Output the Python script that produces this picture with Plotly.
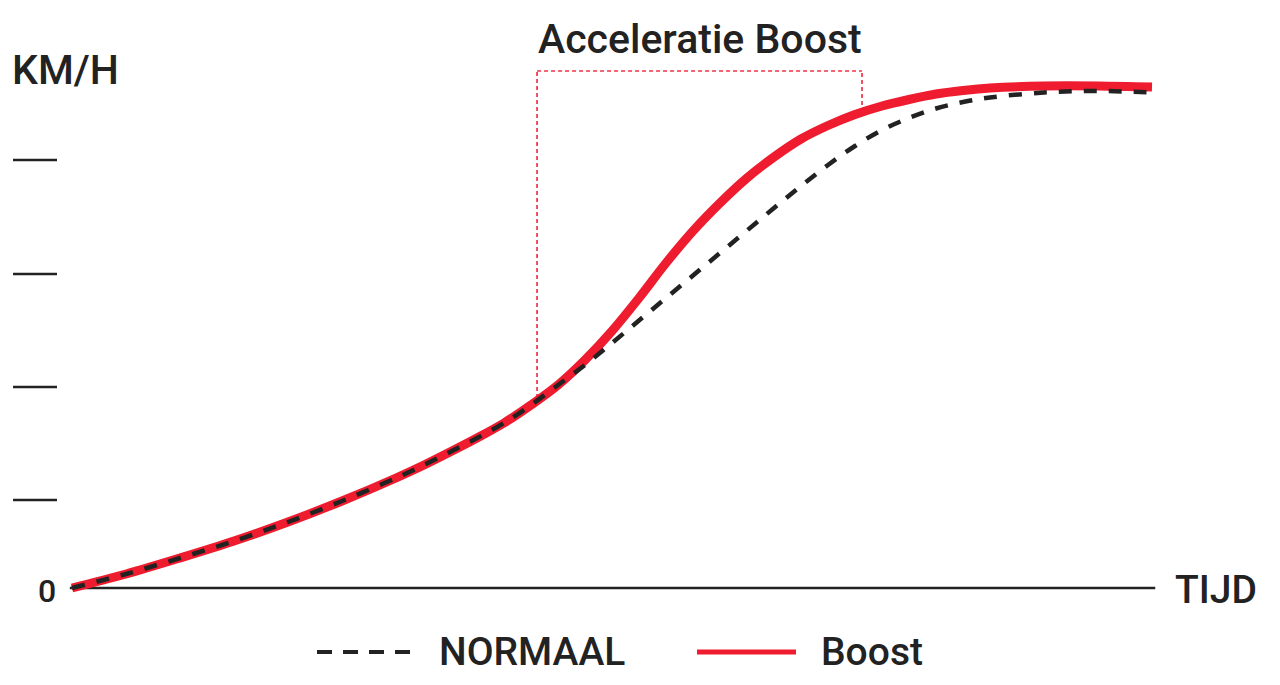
import plotly.graph_objects as go

# ---- data (time in % of run, speed in % of top speed) ----
time_shared = [0, 5, 10, 15, 20, 25, 30, 32.5, 35, 37.5, 40, 42.5, 45]
speed_shared = [0, 2.8, 6.0, 9.4, 13.2, 17.4, 22.0, 24.5, 27.2, 30.0, 33.0, 36.6, 40.6]

time_after = [47.5, 50, 52.5, 55, 57.5, 60, 62.5, 65, 67.5, 70, 72.5, 75, 77.5, 80, 82.5, 85, 90, 95, 100]
speed_boost = [45.6, 51.4, 58.0, 65.0, 71.4, 77.0, 82.0, 86.2, 89.8, 92.5, 94.7, 96.4, 97.7, 98.8, 99.5, 100.0, 100.4, 100.4, 100.2]
speed_normal = [44.6, 49.0, 53.5, 58.0, 62.5, 67.0, 71.5, 76.0, 80.4, 84.6, 88.4, 91.6, 94.0, 95.9, 97.2, 98.1, 99.1, 99.4, 99.1]

y_tick_values = [17.6, 40.2, 62.8, 85.6]
boost_window = [43.06, 73.15]   # start / end of the boost zone
boost_window_top = 103.4
boost_window_bottom = [38.0, 96.6]

series_names = ["NORMAAL", "Boost"]
title_text = "Acceleratie Boost"
y_label = "KM/H"
x_label = "TIJD"

RED = "#ee1c2e"
DARK = "#222222"
FONT = "Roboto, Inter, 'Open Sans', sans-serif"

W, H = 1280, 685
# axis scaling (pixel <-> data)
X0_PX, X_PER = 72, 10.8
Y0_PX, Y_PER = 588, 5.0
x_range = [-X0_PX / X_PER, (W - X0_PX) / X_PER]
y_range = [(Y0_PX - H) / Y_PER, Y0_PX / Y_PER]

fig = go.Figure()
fig.add_trace(go.Scatter(
    x=time_shared + time_after, y=speed_shared + speed_boost,
    mode="lines", line=dict(color=RED, width=9, shape="spline", smoothing=1.0),
    name=series_names[1], hoverinfo="skip"))
fig.add_trace(go.Scatter(
    x=time_shared + time_after, y=speed_shared + speed_normal,
    mode="lines", line=dict(color=DARK, width=4.5, dash="13px,12px", shape="spline", smoothing=1.0),
    name=series_names[0], hoverinfo="skip"))

shapes = []
# x axis baseline
shapes.append(dict(type="line", xref="x", yref="y", x0=-0.2, x1=100.3, y0=0, y1=0,
                   line=dict(color=DARK, width=2.5), layer="below"))
# y tick dashes
for v in y_tick_values:
    shapes.append(dict(type="line", xref="x", yref="y", x0=-5.46, x1=-1.39, y0=v, y1=v,
                       line=dict(color=DARK, width=2.5)))
# boost window (open bottom)
win_line = dict(color="rgba(238,40,60,0.95)", width=1.7, dash="4px,3px")
shapes.append(dict(type="line", xref="x", yref="y", x0=boost_window[0], x1=boost_window[0],
                   y0=boost_window_bottom[0], y1=boost_window_top, line=win_line, layer="below"))
shapes.append(dict(type="line", xref="x", yref="y", x0=boost_window[0], x1=boost_window[1],
                   y0=boost_window_top, y1=boost_window_top, line=win_line, layer="below"))
shapes.append(dict(type="line", xref="x", yref="y", x0=boost_window[1], x1=boost_window[1],
                   y0=boost_window_bottom[1], y1=boost_window_top, line=win_line, layer="below"))

# custom legend
def px(x): return x / W
def py(y): return 1 - y / H

shapes.append(dict(type="line", xref="paper", yref="paper", x0=px(317), x1=px(414), y0=py(652), y1=py(652),
                   line=dict(color=DARK, width=4, dash="15px,11px")))
shapes.append(dict(type="line", xref="paper", yref="paper", x0=px(697), x1=px(796), y0=py(652), y1=py(652),
                   line=dict(color=RED, width=5)))

def ann(text, x, y, size, xanchor="left"):
    return dict(text=text, xref="paper", yref="paper", x=px(x), y=py(y), xanchor=xanchor,
                yanchor="middle", showarrow=False,
                font=dict(family=FONT, size=size, color=DARK, weight=500))

annotations = [
    ann(y_label, 10, 70, 41),
    ann(title_text, 700, 39, 41, "center"),
    ann("0", 58, 591, 32, "right"),
    ann(x_label, 1173, 590, 39),
    ann(series_names[0], 437, 652, 39),
    ann(series_names[1], 819, 652, 39),
]

fig.update_layout(
    width=W, height=H, margin=dict(l=0, r=0, t=0, b=0),
    paper_bgcolor="white", plot_bgcolor="white", showlegend=False,
    xaxis=dict(range=x_range, visible=False, fixedrange=True),
    yaxis=dict(range=y_range, visible=False, fixedrange=True),
    shapes=shapes, annotations=annotations,
)
fig.write_html("out.html")
